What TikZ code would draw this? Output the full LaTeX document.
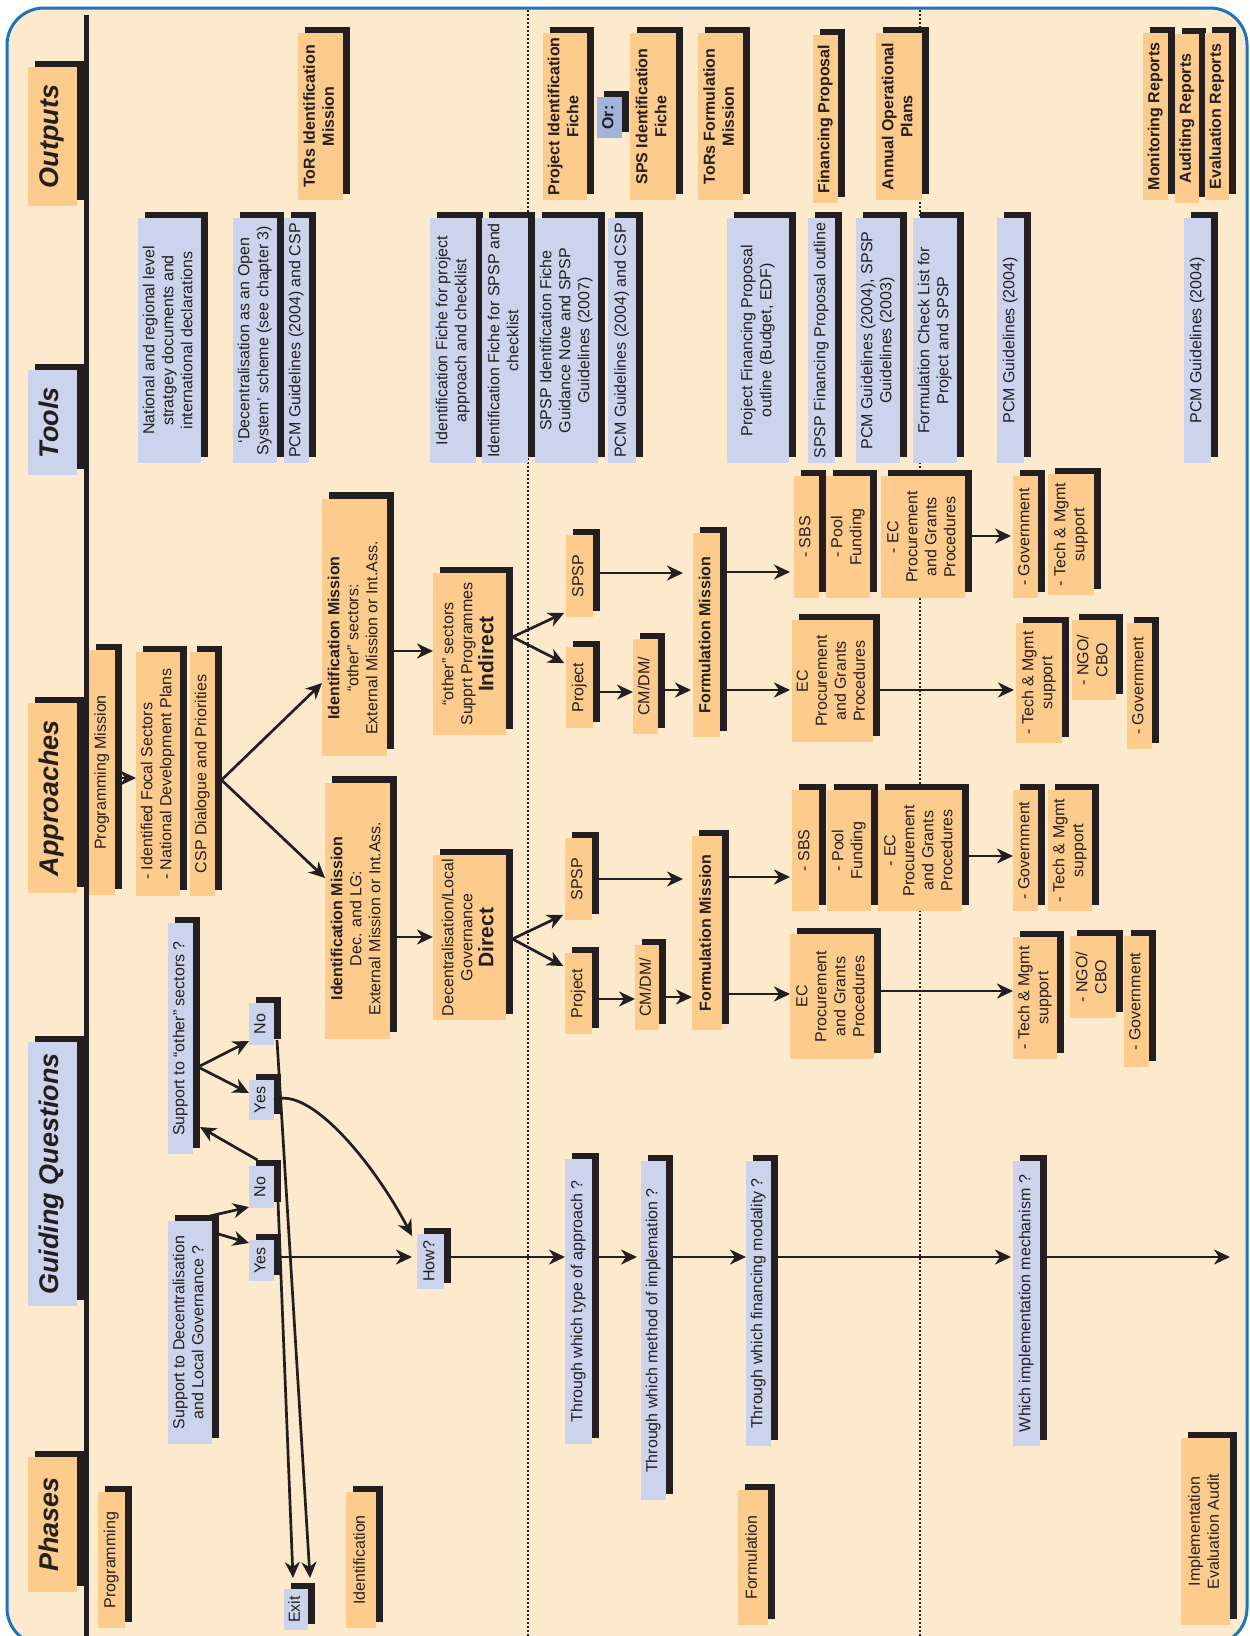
\documentclass[tikz,border=0pt]{standalone}
\usepackage{fontspec}
\setmainfont{Liberation Sans}
\usepackage{graphicx}
\usetikzlibrary{arrows.meta,shadows,calc}
\definecolor{bg}{HTML}{FDEACD}
\definecolor{org}{HTML}{FDCB8B}
\definecolor{blu}{HTML}{CBD4EC}
\definecolor{blu2}{HTML}{A3B4DC}
\definecolor{shd}{HTML}{231F20}
\definecolor{framec}{HTML}{1C75BC}
\newcommand{\mybox}[7][ob]{%
  \pgfmathsetmacro{\bxw}{#5-#3}\pgfmathsetmacro{\bxh}{#6-#4}%
  \pgfmathsetmacro{\bxx}{(#3+#5)/2}\pgfmathsetmacro{\bxy}{(#4+#6)/2}%
  \node[#1, minimum width=\bxw pt, minimum height=\bxh pt] (#2) at (\bxx,\bxy) {\rotatebox{90}{\begin{tabular}{@{}c@{}}#7\end{tabular}}};}
\tikzset{
  bxs/.style={draw=none, inner sep=0pt, outer sep=0pt, text=shd,
    drop shadow={shadow xshift=6.5pt, shadow yshift=6.5pt, opacity=1, fill=shd}},
  ob/.style={bxs, fill=org},
  obb/.style={bxs, fill=org, font=\fontsize{16}{19}\selectfont\bfseries},
  bb/.style={bxs, fill=blu},
  bbo/.style={bxs, fill=blu2, font=\fontsize{16}{19}\selectfont\bfseries},
  hd/.style={font=\fontsize{27}{30}\selectfont\bfseries\itshape},
  arr/.style={line width=2.7pt, draw=shd, -{Stealth[length=16pt, width=15pt, inset=5pt]}},
}
\begin{document}
\begin{tikzpicture}[x=1pt,y=-1pt, every node/.style={font=\fontsize{16}{19}\selectfont, text=shd}]
\useasboundingbox (0,0) rectangle (1250,1636);
\fill[white] (0,0) rectangle (1250,1636);
\draw[framec, line width=3pt, fill=bg, rounded corners=37pt] (7,8) rectangle (1247,1645);
% dividers
\draw[shd, line width=5pt] (86,15) -- (86,1636);
\draw[shd, line width=2pt, dash pattern=on 2pt off 2pt] (528,10) -- (528,1636);
\draw[shd, line width=2pt, dash pattern=on 2pt off 2pt] (920,10) -- (920,1636);
% headers
\mybox[ob,hd]{hOut}{28}{67}{77}{206}{Outputs}
\mybox[bb,hd]{hTools}{28}{370}{77}{475}{Tools}
\mybox[ob,hd]{hAppr}{28}{703}{77}{893}{Approaches}
\mybox[bb,hd]{hGQ}{28}{1042}{77}{1306}{Guiding Questions}
\mybox[ob,hd]{hPh}{28}{1457}{77}{1592}{Phases}
% outputs
\mybox[obb]{oToRsI}{298}{33}{343}{200}{ToRs Identification\\Mission}
\mybox[obb]{oPIF}{543}{33}{587}{200}{Project Identification\\Fiche}
\mybox[bbo]{oOr}{597}{97}{622}{138}{Or:}
\mybox[obb]{oSPS}{630}{33}{676}{200}{SPS Identification\\Fiche}
\mybox[obb]{oToRsF}{698}{33}{743}{200}{ToRs Formulation\\Mission}
\mybox[obb]{oFP}{813}{35}{838}{203}{Financing Proposal}
\mybox[obb]{oAOP}{876}{33}{922}{200}{Annual Operational\\Plans}
\mybox[obb]{oMon}{1143}{33}{1168}{200}{Monitoring Reports}
\mybox[obb]{oAud}{1175}{34}{1199}{203}{Auditing Reports}
\mybox[obb]{oEval}{1205}{33}{1229}{200}{Evaluation Reports}
% tools
\mybox[bb]{t1}{138}{218}{201}{463}{National and regional level\\stratgey documents and\\international declarations}
\mybox[bb]{t2}{233}{218}{277}{463}{‘Decentralisation as an Open\\System’ scheme (see chapter 3)}
\mybox[bb]{t3}{284}{218}{309}{463}{PCM Guidelines (2004) and CSP}
\mybox[bb]{t4}{430}{218}{476}{463}{Identification Fiche for project\\approach and checklist}
\mybox[bb]{t5}{482}{218}{528}{463}{Identification Fiche for SPSP and\\checklist}
\mybox[bb]{t6}{535}{218}{598}{463}{SPSP Identification Fiche\\Guidance Note and SPSP\\Guidelines (2007)}
\mybox[bb]{t7}{608}{218}{636}{463}{PCM Guidelines (2004) and CSP}
\mybox[bb]{t8}{727}{218}{789}{463}{Project Financing Proposal\\outline (Budget, EDF)}
\mybox[bb]{t9}{808}{218}{835}{463}{SPSP Financing Proposal outline}
\mybox[bb]{t10}{856}{218}{900}{463}{PCM Guidelines (2004), SPSP\\Guidelines (2003)}
\mybox[bb]{t11}{913}{218}{957}{463}{Formulation Check List for\\Project and SPSP}
\mybox[bb]{t12}{997}{218}{1024}{463}{PCM Guidelines (2004)}
\mybox[bb]{t13}{1184}{218}{1211}{463}{PCM Guidelines (2004)}
% approaches
\mybox[ob]{PM}{89}{650}{115}{895}{Programming Mission}
\node[ob, minimum width=44pt, minimum height=244pt] (FS) at (158,774) {\rotatebox{90}{\begin{tabular}{@{}l@{}}- Identified Focal Sectors\\- National Development Plans\end{tabular}}};
\mybox[ob]{CSP}{190}{652}{215}{896}{CSP Dialogue and Priorities}
\node[ob, minimum width=65pt, minimum height=257pt] (IdO) at (354.5,627) {\rotatebox{90}{\begin{tabular}{@{}c@{\hspace{22pt}}}\textbf{Identification Mission}\\“other” sectors:\\External Mission or Int.Ass.\end{tabular}}};
\node[ob, minimum width=65pt, minimum height=256pt] (IdD) at (357.5,910.5) {\rotatebox{90}{\begin{tabular}{@{}c@{\hspace{16pt}}}\textbf{Identification Mission}\\Dec. and LG:\\External Mission or Int.Ass.\end{tabular}}};
\mybox[ob]{Ind}{433}{573}{506}{735}{“other” sectors\\Supprt Programmes\\{\fontsize{21}{24}\selectfont\bfseries Indirect}}
\mybox[ob]{Dir}{433}{855}{506}{1020}{Decentralisation/Local\\Governance\\{\fontsize{21}{24}\selectfont\bfseries Direct}}
% indirect branch
\mybox[ob]{SPi}{566}{535}{593}{617}{SPSP}
\mybox[ob]{Pri}{566}{647}{593}{728}{Project}
\mybox[ob]{CMi}{633}{639}{658}{734}{CM/DM/}
\mybox[obb]{FMi}{693}{533}{720}{737}{Formulation Mission}
\mybox[ob]{SBSi}{794}{476}{819}{598}{- SBS}
\mybox[ob]{PFi}{826}{476}{870}{598}{- Pool\\Funding}
\mybox[ob]{ECPi}{881}{476}{965}{598}{- EC\\Procurement\\and Grants\\Procedures}
\mybox[ob]{Govi}{1013}{476}{1038}{598}{- Government}
\mybox[ob]{TMi}{1048}{474}{1094}{595}{- Tech \& Mgmt\\support}
\mybox[ob]{ECi}{792}{620}{873}{742}{EC\\Procurement\\and Grants\\Procedures}
\mybox[ob]{TMi2}{1016}{623}{1062}{743}{- Tech \& Mgmt\\support}
\mybox[ob]{NGOi}{1072}{620}{1116}{700}{- NGO/\\CBO}
\mybox[ob]{Gov2i}{1127}{623}{1152}{749}{- Government}
% direct branch
\mybox[ob]{SPd}{565}{838}{592}{920}{SPSP}
\mybox[ob]{Prd}{565}{953}{592}{1034}{Project}
\mybox[ob]{CMd}{635}{945}{659}{1030}{CM/DM/}
\mybox[obb]{FMd}{692}{836}{722}{1030}{Formulation Mission}
\mybox[ob]{SBSd}{792}{790}{819}{911}{- SBS}
\mybox[ob]{PFd}{827}{790}{871}{911}{- Pool\\Funding}
\mybox[ob]{ECPd}{878}{790}{962}{911}{- EC\\Procurement\\and Grants\\Procedures}
\mybox[ob]{Govd}{1013}{790}{1038}{911}{- Government}
\mybox[ob]{TMd}{1048}{790}{1092}{911}{- Tech \& Mgmt\\support}
\mybox[ob]{ECd}{790}{934}{874}{1059}{EC\\Procurement\\and Grants\\Procedures}
\mybox[ob]{TMd2}{1013}{937}{1057}{1059}{- Tech \& Mgmt\\support}
\mybox[ob]{NGOd}{1070}{936}{1116}{1018}{- NGO/\\CBO}
\mybox[ob]{Gov2d}{1124}{936}{1149}{1067}{- Government}
% guiding questions
\mybox[bb]{SO}{168}{923}{193}{1154}{Support to “other” sectors ?}
\mybox[bb]{NoU}{249}{1003}{274}{1045}{No}
\mybox[bb]{YesU}{249}{1080}{274}{1120}{Yes}
\mybox[bb]{NoL}{249}{1166}{274}{1208}{No}
\mybox[bb]{YesL}{249}{1240}{274}{1281}{Yes}
\mybox[bb]{SD}{168}{1221}{212}{1444}{Support to Decentralisation\\and Local Governance ?}
\mybox[bb]{Exit}{284}{1589}{308}{1630}{Exit}
\mybox[bb]{How}{417}{1234}{444}{1289}{How?}
\mybox[bb]{TQ}{565}{1159}{592}{1444}{Through which type of approach ?}
\mybox[bb]{MQ}{641}{1161}{666}{1500}{Through which method of implemation ?}
\mybox[bb]{FQ}{746}{1161}{771}{1446}{Through which financing modality ?}
\mybox[bb]{WQ}{1013}{1161}{1040}{1446}{Which implementation mechanism ?}
% phases
\mybox[ob]{phP}{98}{1492}{125}{1628}{Programming}
\mybox[ob]{phI}{346}{1492}{376}{1628}{Identification}
\mybox[ob]{phF}{738}{1490}{768}{1625}{Formulation}
\mybox[ob]{phE}{1181}{1438}{1230}{1625}{Implementation\\Evaluation Audit}
% arrows: approaches
\draw[arr] (PM.east |- 0,778) -- (FS.west |- 0,778);
\draw[arr] ($(CSP.east |- 0,780)+(6.5,0)$) -- (IdO.west |- 0,683);
\draw[arr] ($(CSP.east |- 0,780)+(6.5,0)$) -- (IdD.west |- 0,878);
\draw[arr] (IdO.east |- 0,651) -- (Ind.west |- 0,651);
\draw[arr] (IdD.east |- 0,937) -- (Dir.west |- 0,937);
\draw[arr, shorten >=2pt] ($(Ind.east |- 0,637)+(6.5,0)$) -- (SPi.west |- 0,612);
\draw[arr, shorten >=2pt] ($(Ind.east |- 0,637)+(6.5,0)$) -- (Pri.west |- 0,664);
\draw[arr, shorten >=2pt] ($(Dir.east |- 0,939)+(6.5,0)$) -- (SPd.west |- 0,914);
\draw[arr, shorten >=2pt] ($(Dir.east |- 0,939)+(6.5,0)$) -- (Prd.west |- 0,967);
\draw[arr, shorten >=10pt] (SPi.east |- 0,573) -- (FMi.west |- 0,573);
\draw[arr] (Pri.east |- 0,692) -- (CMi.west |- 0,692);
\draw[arr, shorten >=2pt] (CMi.east |- 0,690) -- (FMi.west |- 0,690);
\draw[arr, shorten >=4pt] (FMi.east |- 0,572) -- (SBSi.west |- 0,572);
\draw[arr, shorten >=2pt] (FMi.east |- 0,690) -- (ECi.west |- 0,690);
\draw[arr, shorten >=2pt] (ECPi.east |- 0,536) -- (Govi.west |- 0,536);
\draw[arr, shorten >=2pt] (ECi.east |- 0,690) -- (TMi2.west |- 0,690);
\draw[arr, shorten >=9pt] (SPd.east |- 0,879) -- (FMd.west |- 0,879);
\draw[arr] (Prd.east |- 0,999) -- (CMd.west |- 0,999);
\draw[arr] (CMd.east |- 0,997) -- (FMd.west |- 0,997);
\draw[arr, shorten >=2pt] (FMd.east |- 0,877) -- (SBSd.west |- 0,877);
\draw[arr] (FMd.east |- 0,994) -- (ECd.west |- 0,994);
\draw[arr] (ECPd.east |- 0,856) -- (Govd.west |- 0,856);
\draw[arr] (ECd.east |- 0,991) -- (TMd2.west |- 0,991);
% arrows: guiding questions
\draw[arr] ($(SO.east |- 0,1066)+(7,0)$) -- (NoU.west |- 0,1041);
\draw[arr] ($(SO.east |- 0,1068)+(7,0)$) -- (YesU.west |- 0,1093);
\draw[arr] ($(NoL.north)+(-4,-6)$) -- ($(SO.east |- 0,1127)+(7,0)$);
\draw[arr] ($(SD.north east)+(-2,-5)$) -- (NoL.west |- 0,1207);
\draw[arr] ($(SD.north east |- 0,1234)+(6.5,0)$) -- (YesL.west |- 0,1243);
\draw[arr] (YesU.east |- 0,1100) .. controls (310,1085) and (375,1165) .. ($(How.north west)+(-5,2)$);
\draw[arr, shorten >=5pt] (YesL.east |- 0,1257) -- (How.west |- 0,1257);
\draw[arr] ($(NoU.south east)+(3,-5)$) -- ($(Exit.north)+(14,-11)$);
\draw[arr] ($(NoL.south east)+(4,-7)$) -- ($(Exit.north)+(-3,-11)$);
\draw[arr] (How.east |- 0,1257) -- (TQ.west |- 0,1257);
\draw[arr, shorten >=4pt] (TQ.east |- 0,1257) -- (MQ.west |- 0,1257);
\draw[arr] (MQ.east |- 0,1257) -- (FQ.west |- 0,1257);
\draw[arr, shorten >=2pt] (FQ.east |- 0,1257) -- (WQ.west |- 0,1257);
\coordinate (gend) at (1230,1257);
\draw[arr] (WQ.east |- 0,1257) -- (gend);
\end{tikzpicture}
\end{document}
